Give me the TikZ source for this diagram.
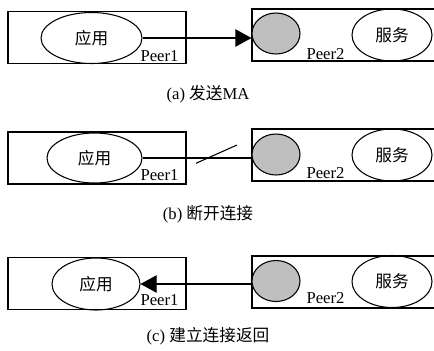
\documentclass[tikz,border=0pt]{standalone}
\usepackage{fontspec}
\setmainfont{Liberation Serif}
\newfontfamily\cjk{Noto Sans CJK SC}
\usetikzlibrary{shapes.geometric,arrows.meta}

\begin{document}
\begin{tikzpicture}[x=0.75pt,y=-0.75pt, inner sep=0pt, line width=0.8pt, >={Triangle[length=12pt,width=13pt]},
  font=\fontsize{12.5pt}{15pt}\selectfont,
  peerbox/.style={rectangle,draw=black,minimum height=39pt},
  app/.style={ellipse,draw=black},
  svc/.style={ellipse,draw=black,minimum width=60pt,minimum height=39pt},
  dot/.style={ellipse,draw=black,fill=black!25,minimum width=36pt,minimum height=30.75pt}]
\useasboundingbox (0,0) rectangle (434,350);
% (a)
\node (box1) at (97,37.5) [peerbox,minimum width=133.5pt] {};
\node (srv1) at (361,35) [peerbox,minimum width=163.5pt] {};
\node (app1) at (91.5,38) [app,minimum width=75.75pt,minimum height=38.25pt] {\cjk 应用};
\node (dot1) at (276,33.5) [dot] {};
\node (svc1) at (392,35) [svc] {\cjk 服务};
\node (peer1) at (179,61) [anchor=base east] {Peer1};
\node (peer2) at (306,59) [anchor=base west] {Peer2};
\draw[->] (app1.east) -- (app1.east -| dot1.west);
\node (cap1) at (208,94) {(a) {\cjk 发送}MA};
% (b)
\node (box2) at (97,158) [peerbox,minimum width=133.5pt] {};
\node (srv2) at (361,155) [peerbox,minimum width=163.5pt] {};
\node (app2) at (94.5,158) [app,minimum width=71.25pt,minimum height=37.5pt] {\cjk 应用};
\node (dot2) at (276,154.5) [dot] {};
\node (svc2) at (392,155) [svc] {\cjk 服务};
\node (peer3) at (179,180) [anchor=base east] {Peer1};
\node (peer4) at (306,178) [anchor=base west] {Peer2};
\draw (app2.east) -- (app2.east -| dot2.west);
\coordinate (cut1) at (196,163.3);
\coordinate (cut2) at (237,145);
\draw (cut1) -- (cut2);
\node (cap2) at (208,214) {(b) {\cjk 断开连接}};
% (c)
\node (box3) at (97,283.3) [peerbox,minimum width=133.5pt] {};
\node (srv3) at (361,282) [peerbox,minimum width=163.5pt] {};
\node (app3) at (96,284) [app,minimum width=66pt,minimum height=39pt] {\cjk 应用};
\node (dot3) at (276,281) [dot] {};
\node (svc3) at (392,281.5) [svc] {\cjk 服务};
\node (peer5) at (179,305) [anchor=base east] {Peer1};
\node (peer6) at (306,303) [anchor=base west] {Peer2};
\draw[->] (dot3.west |- app3.east) -- (app3.east);
\node (cap3) at (208,336) {(c) {\cjk 建立连接返回}};
\end{tikzpicture}
\end{document}
